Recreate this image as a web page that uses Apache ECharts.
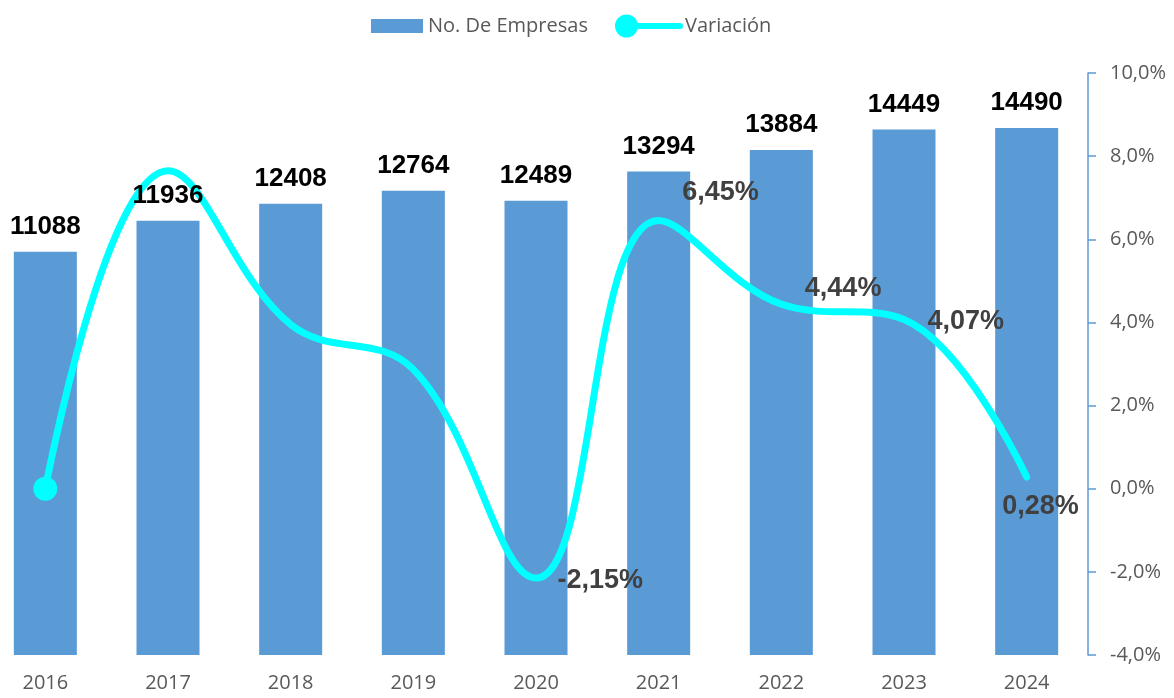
<!DOCTYPE html>
<html>
<head>
<meta charset="utf-8">
<script src="https://cdn.jsdelivr.net/npm/echarts@6/dist/echarts.min.js"></script>
<style>
html,body{margin:0;padding:0;background:#fff;}
#chart{width:1174px;height:698px;}
</style>
</head>
<body>
<div id="chart"></div>
<script>
const categories = ['2016', '2017', '2018', '2019', '2020', '2021', '2022', '2023', '2024'];
const empresas = [11088, 11936, 12408, 12764, 12489, 13294, 13884, 14449, 14490];
const variacion = [0, 7.65, 3.95, 2.87, -2.15, 6.45, 4.44, 4.07, 0.28];
const variacionLabels = [null, null, null, null, '-2,15%', '6,45%', '4,44%', '4,07%', '0,28%'];
const labelOffsets = [null, null, null, null, [21, 2], [23, -28], [23, -16], [23, 2], [-25, 29]];
const seriesNames = ['No. De Empresas', 'Variación'];

const chart = echarts.init(document.getElementById('chart'), null, {renderer: 'canvas'});

const FONT = '"Open Sans", "Noto Sans", sans-serif';
const BOLD = '"Liberation Sans", Arial, sans-serif';

const lineData = variacion.map((v, i) => {
  const item = {value: v, symbolSize: i === 0 ? 24 : 1};
  if (variacionLabels[i]) {
    item.label = {
      show: true,
      formatter: variacionLabels[i],
      position: 'right',
      distance: 0
    };
  }
  return item;
});

const option = {
  animation: false,
  backgroundColor: '#ffffff',
  legend: [
    {
      data: [seriesNames[0]],
      left: 366,
      top: 9,
      itemWidth: 52,
      itemHeight: 14,
      icon: 'rect',
      textStyle: {color: '#595959', fontSize: 20, fontFamily: FONT, lineHeight: 24},
      selectedMode: false
    },
    {
      data: [{
        name: seriesNames[1],
        icon: 'path://M0,11.5A11.5,11.5,0,1,1,23,11.5A11.5,11.5,0,1,1,0,11.5Z M11.5,8.5H65A3,3,0,0,1,65,14.5H11.5Z'
      }],
      left: 610,
      top: 9,
      itemWidth: 68,
      itemHeight: 23,
      itemGap: 0,
      itemStyle: {color: '#00FFFF', borderWidth: 0},
      textStyle: {color: '#595959', fontSize: 20, fontFamily: FONT, lineHeight: 24, padding: [0, 0, 0, -3]},
      selectedMode: false
    }
  ],
  grid: {
    left: -16,
    right: 86,
    top: 73,
    bottom: 43,
    containLabel: false,
    outerBoundsMode: 'none'
  },
  xAxis: {
    type: 'category',
    data: categories,
    axisLine: {show: false},
    axisTick: {show: false},
    axisLabel: {color: '#595959', fontSize: 20, fontFamily: FONT, margin: 18}
  },
  yAxis: [
    {
      type: 'value',
      min: 0,
      max: 16000,
      show: false,
      splitLine: {show: false}
    },
    {
      type: 'value',
      position: 'right',
      min: -4,
      max: 10,
      interval: 2,
      splitLine: {show: false},
      axisLine: {show: true, lineStyle: {color: '#5B9BD5', width: 1.5}},
      axisTick: {show: true, length: 8, inside: false, lineStyle: {color: '#5B9BD5', width: 1.5}},
      axisLabel: {
        color: '#595959',
        fontSize: 20,
        fontFamily: FONT,
        margin: 22,
        formatter: v => v.toFixed(1).replace('.', ',') + '%'
      }
    }
  ],
  series: [
    {
      name: seriesNames[0],
      type: 'bar',
      data: empresas,
      yAxisIndex: 0,
      barWidth: 63,
      z: 1,
      itemStyle: {color: '#5B9BD5'}
    },
    {
      name: seriesNames[1],
      type: 'line',
      data: lineData,
      yAxisIndex: 1,
      smooth: 0.4,
      symbol: 'circle',
      showSymbol: true,
      z: 3,
      lineStyle: {color: '#00FFFF', width: 7, cap: 'round'},
      itemStyle: {color: '#00FFFF', borderWidth: 0},
      label: {
        show: false,
        color: '#404040',
        fontSize: 27,
        fontWeight: 'bold',
        fontFamily: BOLD
      },
      labelLayout: function (params) {
        const o = labelOffsets[params.dataIndex];
        return o ? {dx: o[0], dy: o[1], hideOverlap: false} : {};
      }
    },
    {
      name: 'labels',
      type: 'bar',
      data: empresas,
      yAxisIndex: 0,
      barWidth: 63,
      barGap: '-100%',
      z: 5,
      silent: true,
      itemStyle: {color: 'rgba(0,0,0,0)'},
      label: {
        show: true,
        position: 'top',
        distance: 12,
        color: '#000000',
        fontSize: 26,
        fontWeight: 'bold',
        fontFamily: BOLD
      }
    }
  ]
};

chart.setOption(option);
</script>
</body>
</html>
